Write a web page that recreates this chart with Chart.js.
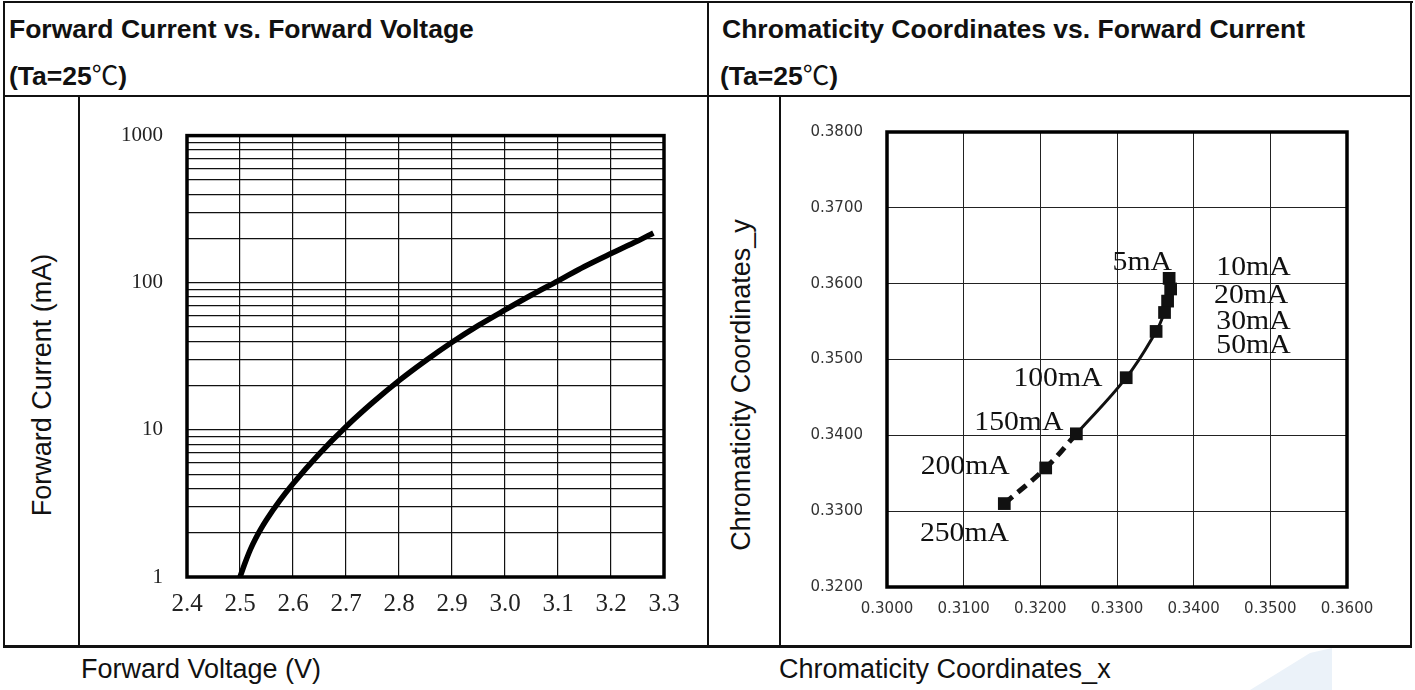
<!DOCTYPE html>
<html>
<head>
<meta charset="utf-8">
<script src="https://cdn.jsdelivr.net/npm/chart.js@4.4.1/dist/chart.umd.min.js"></script>
<style>
  body { margin: 0; width: 1415px; height: 690px; background: #fff; position: relative; overflow: hidden;
         font-family: "Liberation Sans", Arial, sans-serif; color: #111; }
  .ln { position: absolute; background: #111; }
  .hd { position: absolute; font-weight: bold; font-size: 26.5px; line-height: 26px; white-space: nowrap; }
  .deg { font-family: "Noto Sans CJK SC", sans-serif; font-weight: normal; }
  .ttl { position: absolute; font-size: 27px; line-height: 26px; white-space: nowrap; }
  .rot { position: absolute; width: 400px; text-align: center; font-size: 27px; line-height: 26px;
         white-space: nowrap; transform: rotate(-90deg); transform-origin: 50% 50%; }
  .wm { position: absolute; left: 1240px; top: 648px; width: 100px; height: 42px; background: #ebf2f9;
        clip-path: polygon(10% 100%, 70% 12%, 92% 0%, 92% 100%); }
  canvas { position: absolute; }
</style>
</head>
<body>
<!-- table lines -->
<div class="ln" style="left:3px;top:1px;width:1410px;height:2px"></div>
<div class="ln" style="left:3px;top:1px;width:2px;height:647px"></div>
<div class="ln" style="left:1410px;top:1px;width:2px;height:647px"></div>
<div class="ln" style="left:707px;top:1px;width:2px;height:647px"></div>
<div class="ln" style="left:3px;top:95px;width:1409px;height:2px"></div>
<div class="ln" style="left:78px;top:96px;width:2px;height:551px"></div>
<div class="ln" style="left:779px;top:96px;width:2px;height:551px"></div>
<div class="ln" style="left:3px;top:645px;width:1409px;height:3px"></div>
<div class="wm"></div>

<div class="hd" style="left:9px;top:16px">Forward Current vs. Forward Voltage</div>
<div class="hd" style="left:9px;top:61px">(Ta=25<span class="deg">℃</span>)</div>
<div class="hd" style="left:722px;top:16px">Chromaticity Coordinates vs. Forward Current</div>
<div class="hd" style="left:720px;top:61px">(Ta=25<span class="deg">℃</span>)</div>

<div class="rot" style="left:-158px;top:372px">Forward Current (mA)</div>
<div class="rot" style="left:541px;top:372px">Chromaticity Coordinates_y</div>
<div class="ttl" style="left:81px;top:656px">Forward Voltage (V)</div>
<div class="ttl" style="left:779px;top:656px">Chromaticity Coordinates_x</div>

<canvas id="ivChart" width="626" height="546" style="left:80px;top:99px"></canvas>
<canvas id="ccChart" width="628" height="546" style="left:782px;top:99px"></canvas>

<script>
// Forward current vs forward voltage
const ivVoltage = [2.50, 2.51, 2.52, 2.53, 2.54, 2.55, 2.575, 2.60, 2.65, 2.70, 2.75, 2.80, 2.85, 2.90, 2.95, 3.00, 3.05, 3.10, 3.15, 3.20, 3.25, 3.28];
const ivCurrent = [1.0, 1.26, 1.55, 1.84, 2.14, 2.45, 3.3, 4.3, 6.9, 10.5, 15.3, 21.6, 29.5, 39.4, 51.3, 65.3, 82.5, 103, 129, 158, 192, 218];
const ivVoltageTicks = [2.4, 2.5, 2.6, 2.7, 2.8, 2.9, 3.0, 3.1, 3.2, 3.3];
const ivCurrentTicks = [1, 10, 100, 1000];

// Chromaticity coordinates vs forward current
const ccCurrents = ['5mA', '10mA', '20mA', '30mA', '50mA', '100mA', '150mA', '200mA', '250mA'];
const ccX = [0.3368, 0.3370, 0.3366, 0.3362, 0.3351, 0.3312, 0.3247, 0.3207, 0.3153];
const ccY = [0.3607, 0.3593, 0.3577, 0.3562, 0.3537, 0.3476, 0.3402, 0.3357, 0.3310];
// where each current label sits, in chart units
const ccLabelX = [0.3333, 0.3478, 0.3475, 0.3478, 0.3478, 0.3223, 0.3172, 0.3102, 0.3101];
const ccLabelY = [0.3628, 0.3621, 0.3584, 0.3549, 0.3518, 0.3475, 0.3417, 0.3359, 0.3270];
const ccXTicks = [0.30, 0.31, 0.32, 0.33, 0.34, 0.35, 0.36];
const ccYTicks = [0.32, 0.33, 0.34, 0.35, 0.36, 0.37, 0.38];

const frame = {
  id: 'frame',
  beforeDatasetsDraw(chart) {
    const a = chart.chartArea, ctx = chart.ctx;
    ctx.save();
    ctx.lineWidth = 3.5;
    ctx.strokeStyle = '#000';
    ctx.strokeRect(a.left, a.top, a.right - a.left, a.bottom - a.top);
    ctx.restore();
  }
};

const currentLabels = {
  id: 'currentLabels',
  afterDatasetsDraw(chart) {
    const ctx = chart.ctx, xs = chart.scales.x, ys = chart.scales.y;
    ctx.save();
    ctx.fillStyle = '#111';
    ctx.font = '27px "Liberation Serif", "Times New Roman", serif';
    ctx.textAlign = 'center';
    ctx.textBaseline = 'middle';
    ccCurrents.forEach((t, i) => {
      ctx.save();
      ctx.translate(xs.getPixelForValue(ccLabelX[i]), ys.getPixelForValue(ccLabelY[i]));
      ctx.scale(1.1, 1);
      ctx.fillText(t, 0, 0);
      ctx.restore();
    });
    ctx.restore();
  }
};

// log grid: 1..9 in every decade
const logGrid = [];
for (let d = 1; d < 1000; d *= 10) {
  for (let s = 1; s < 10; s++) logGrid.push(s * d);
}
logGrid.push(1000);

new Chart(document.getElementById('ivChart'), {
  type: 'line',
  data: {
    datasets: [{
      data: ivVoltage.map((v, i) => ({ x: v, y: ivCurrent[i] })),
      borderColor: '#000',
      borderWidth: 5.5,
      pointRadius: 0,
      cubicInterpolationMode: 'monotone',
      fill: false
    }]
  },
  options: {
    responsive: false,
    animation: false,
    devicePixelRatio: 1,
    layout: { padding: { top: 31, right: 42, bottom: 0, left: 0 } },
    plugins: { legend: { display: false }, tooltip: { enabled: false } },
    scales: {
      x: {
        type: 'linear', min: 2.4, max: 3.3,
        afterBuildTicks: s => { s.ticks = ivVoltageTicks.map(v => ({ value: v })); },
        afterFit: s => { s.height = 68; },
        grid: { color: '#111', lineWidth: 1.2, drawTicks: false },
        border: { display: false },
        ticks: {
          autoSkip: false, maxRotation: 0, padding: 12, color: '#222',
          font: { family: '"Liberation Serif", serif', size: 25 },
          callback: v => v.toFixed(1)
        }
      },
      y: {
        type: 'logarithmic', min: 1, max: 1000,
        afterBuildTicks: s => { s.ticks = logGrid.map(v => ({ value: v })); },
        afterFit: s => { s.width = 107; },
        grid: { color: '#111', lineWidth: 1.2, drawTicks: false },
        border: { display: false },
        ticks: {
          autoSkip: false, padding: 24, color: '#222',
          font: { family: '"Liberation Serif", serif', size: 21 },
          callback: v => ivCurrentTicks.includes(v) ? String(v) : ''
        }
      }
    }
  },
  plugins: [frame]
});

new Chart(document.getElementById('ccChart'), {
  type: 'line',
  data: {
    datasets: [{
      data: ccX.map((x, i) => ({ x: x, y: ccY[i] })),
      borderColor: '#111',
      borderWidth: 3,
      tension: 0.4,
      pointStyle: 'rect',
      pointRadius: 9,
      pointBackgroundColor: '#111',
      pointBorderWidth: 0,
      fill: false,
      segment: {
        borderDash: c => c.p0DataIndex >= 6 ? [11, 7] : undefined,
        borderWidth: c => c.p0DataIndex >= 6 ? 5 : undefined
      }
    }]
  },
  options: {
    responsive: false,
    animation: false,
    devicePixelRatio: 1,
    layout: { padding: { top: 31, right: 63, bottom: 0, left: 0 } },
    plugins: { legend: { display: false }, tooltip: { enabled: false } },
    scales: {
      x: {
        type: 'linear', min: 0.30, max: 0.36,
        afterBuildTicks: s => { s.ticks = ccXTicks.map(v => ({ value: v })); },
        afterFit: s => { s.height = 58; },
        grid: { color: '#222', lineWidth: 1, drawTicks: false },
        border: { display: false },
        ticks: {
          autoSkip: false, maxRotation: 0, padding: 13, color: '#333',
          font: { family: '"DejaVu Sans", sans-serif', size: 15 },
          callback: v => v.toFixed(4)
        }
      },
      y: {
        type: 'linear', min: 0.32, max: 0.38,
        afterBuildTicks: s => { s.ticks = ccYTicks.map(v => ({ value: v })); },
        afterFit: s => { s.width = 105; },
        grid: { color: '#222', lineWidth: 1, drawTicks: false },
        border: { display: false },
        ticks: {
          autoSkip: false, padding: 24, color: '#333',
          font: { family: '"DejaVu Sans", sans-serif', size: 15 },
          callback: v => v.toFixed(4)
        }
      }
    }
  },
  plugins: [frame, currentLabels]
});
</script>
</body>
</html>
